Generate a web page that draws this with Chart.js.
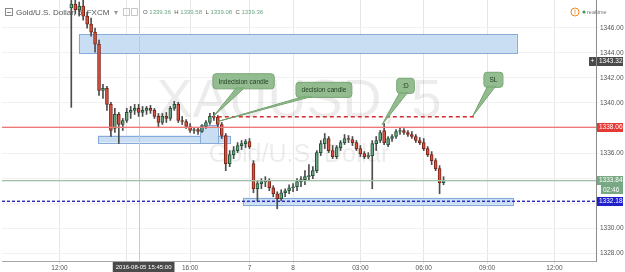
<!DOCTYPE html>
<html>
<head>
<meta charset="utf-8">
<script src="https://cdn.jsdelivr.net/npm/chart.js@4.4.1/dist/chart.umd.min.js"></script>
<style>
  html, body { margin: 0; padding: 0; background: #fff; }
</style>
</head>
<body>
<canvas id="chart" width="625" height="272"></canvas>
<script>
// XAUUSD 5m candles. first candle sits in slot 17
const barCount = 150;
const firstBar = 17;

const opens = [
  1347.56, 1347.88, 1347.40, 1347.72, 1346.92, 1346.28, 1345.64, 1344.68, 1341.00, 1341.16,
  1339.88, 1337.96, 1339.08, 1338.28, 1338.60, 1339.24, 1339.40, 1339.56, 1339.24, 1339.40,
  1339.56, 1339.40, 1338.92, 1338.44, 1338.92, 1338.76, 1339.56, 1339.88, 1338.60, 1338.52,
  1338.12, 1337.80, 1337.88, 1337.72, 1338.12, 1338.44, 1338.92, 1338.84, 1338.28, 1337.40,
  1335.16, 1335.88, 1336.20, 1336.60, 1336.76, 1336.92, 1335.16, 1333.16, 1333.56, 1333.72,
  1333.80, 1333.24, 1332.76, 1332.36, 1332.84, 1333.00, 1333.24, 1333.32, 1333.72, 1333.88,
  1334.12, 1334.20, 1334.60, 1336.04, 1336.76, 1337.16, 1336.20, 1335.72, 1336.44, 1336.84,
  1337.16, 1337.08, 1336.84, 1336.36, 1335.96, 1335.72, 1335.80, 1336.76, 1337.00, 1337.80,
  1336.68, 1337.16, 1337.32, 1337.72, 1337.80, 1337.64, 1337.48, 1337.32, 1337.00, 1336.84,
  1336.36, 1335.88, 1335.40, 1334.76, 1333.64
];
const highs = [
  1348.44, 1348.52, 1348.04, 1348.20, 1347.24, 1346.76, 1345.96, 1345.00, 1341.48, 1341.32,
  1340.04, 1339.56, 1339.24, 1338.76, 1339.56, 1339.72, 1339.88, 1339.88, 1339.72, 1339.72,
  1339.80, 1339.56, 1339.16, 1339.16, 1339.24, 1339.72, 1340.12, 1340.04, 1338.92, 1338.68,
  1338.36, 1338.04, 1338.04, 1338.28, 1338.60, 1339.16, 1339.24, 1339.00, 1338.44, 1337.56,
  1336.20, 1336.52, 1336.84, 1337.00, 1337.08, 1337.16, 1335.40, 1333.80, 1333.96, 1334.12,
  1333.96, 1333.40, 1332.92, 1333.08, 1333.16, 1333.48, 1333.56, 1333.96, 1334.12, 1334.60,
  1335.08, 1334.92, 1336.20, 1337.00, 1337.56, 1337.32, 1336.60, 1336.60, 1337.00, 1337.48,
  1337.40, 1337.32, 1337.00, 1336.60, 1336.12, 1336.04, 1337.00, 1337.32, 1337.80, 1338.36,
  1337.32, 1337.48, 1337.88, 1338.04, 1337.96, 1337.80, 1337.72, 1337.48, 1337.24, 1337.16,
  1336.52, 1336.12, 1335.56, 1335.00, 1334.12
];
const lows = [
  1339.64, 1347.08, 1346.92, 1346.60, 1345.96, 1345.32, 1344.04, 1340.60, 1340.36, 1339.40,
  1337.32, 1337.64, 1336.76, 1337.80, 1338.44, 1338.76, 1339.08, 1338.92, 1338.92, 1339.08,
  1339.16, 1338.76, 1338.04, 1338.28, 1338.44, 1338.60, 1339.40, 1338.44, 1338.28, 1337.96,
  1337.64, 1337.56, 1337.48, 1337.64, 1337.96, 1338.28, 1338.60, 1338.04, 1337.16, 1334.60,
  1334.92, 1335.56, 1336.04, 1336.28, 1336.44, 1336.36, 1332.84, 1332.20, 1333.16, 1333.32,
  1333.00, 1332.52, 1331.56, 1332.20, 1332.52, 1332.76, 1332.92, 1333.00, 1333.32, 1333.48,
  1333.80, 1333.96, 1334.44, 1335.80, 1336.36, 1336.04, 1335.56, 1335.56, 1336.20, 1336.68,
  1336.84, 1336.60, 1336.20, 1335.72, 1335.56, 1335.56, 1333.16, 1336.20, 1336.84, 1336.68,
  1336.52, 1336.92, 1337.16, 1337.48, 1337.48, 1337.32, 1337.16, 1336.84, 1336.68, 1336.20,
  1335.72, 1335.08, 1334.60, 1332.76, 1333.48
];
const closes = [
  1347.88, 1347.40, 1347.72, 1346.92, 1346.28, 1345.64, 1344.68, 1341.00, 1341.16, 1339.88,
  1337.80, 1339.08, 1338.28, 1338.60, 1339.24, 1339.40, 1339.56, 1339.24, 1339.40, 1339.56,
  1339.40, 1338.92, 1338.44, 1338.92, 1338.76, 1339.56, 1339.88, 1338.60, 1338.52, 1338.12,
  1337.80, 1337.88, 1337.72, 1338.12, 1338.44, 1338.92, 1338.84, 1338.28, 1337.40, 1335.16,
  1335.88, 1336.20, 1336.60, 1336.76, 1336.92, 1336.52, 1333.16, 1333.56, 1333.72, 1333.80,
  1333.24, 1332.76, 1332.36, 1332.84, 1333.00, 1333.24, 1333.32, 1333.72, 1333.88, 1334.12,
  1334.20, 1334.60, 1336.04, 1336.76, 1337.16, 1336.20, 1335.72, 1336.44, 1336.84, 1337.16,
  1337.08, 1336.84, 1336.36, 1335.96, 1335.72, 1335.80, 1336.76, 1337.00, 1337.64, 1336.84,
  1337.16, 1337.32, 1337.72, 1337.80, 1337.64, 1337.48, 1337.32, 1337.00, 1336.84, 1336.36,
  1335.88, 1335.40, 1334.76, 1333.64, 1333.84
];

// time axis
const tickBars = [14, 31, 47, 62, 73, 90, 106, 122, 139];
const tickTexts = ['12:00', '14:00', '16:00', '7', '8', '03:00', '06:00', '09:00', '12:00'];

// price axis
const priceTicks = [1328, 1330, 1332, 1334, 1336, 1338, 1340, 1342, 1344, 1346];
const hiddenPriceTicks = [1332, 1334, 1338];

// drawn zones (bar slot from/to, price top/bottom)
const zoneFrom = [18.9, 23.7, 49.5, 60.4];
const zoneTo = [129.5, 57.1, 54.0, 128.5];
const zoneTop = [1345.48, 1337.40, 1338.20, 1332.44];
const zoneBottom = [1343.96, 1336.84, 1336.76, 1331.88];

// levels
const redLevel = 1338.06;
const blueLevel = 1332.18;
const lastPrice = 1333.84;
const slLevel = 1338.96;
const slFrom = 54.0;
const slTo = 118.9;
const crossBar = 34;
const crossPrice = 1343.32;
const crossTime = '2016-08-05 15:45:00';
const countdown = '02:46';

// callouts
const noteTexts = ['Indecision candle', 'decision candle', ':D', 'SL'];
const noteBars = [60.5, 80.8, 101.4, 123.6];
const notePrices = [1341.72, 1341.04, 1341.36, 1341.84];
const tipBars = [52.8, 54.0, 95.5, 118.4];
const tipPrices = [1338.90, 1338.52, 1338.28, 1338.96];

const legendOHLC = ['1339.36', '1339.58', '1339.08', '1339.36'];

const family = '"Liberation Sans", Arial, sans-serif';

const labels = [];
for (let i = 0; i < barCount; i++) labels.push('');
tickBars.forEach((b, k) => { labels[b] = tickTexts[k]; });

function candle(i) {
    const k = i - firstBar;
    return k >= 0 && k < closes.length ? k : -1;
}

const wickData = labels.map((_, i) => {
    const k = candle(i);
    return k < 0 ? null : [lows[k], highs[k]];
});
const bodyData = labels.map((_, i) => {
    const k = candle(i);
    return k < 0 ? null : [opens[k], closes[k]];
});
const isUp = labels.map((_, i) => {
    const k = candle(i);
    return k >= 0 && closes[k] >= opens[k];
});

function roundRect(ctx, x, y, w, h, r) {
    ctx.beginPath();
    ctx.moveTo(x + r, y);
    ctx.lineTo(x + w - r, y);
    ctx.quadraticCurveTo(x + w, y, x + w, y + r);
    ctx.lineTo(x + w, y + h - r);
    ctx.quadraticCurveTo(x + w, y + h, x + w - r, y + h);
    ctx.lineTo(x + r, y + h);
    ctx.quadraticCurveTo(x, y + h, x, y + h - r);
    ctx.lineTo(x, y + r);
    ctx.quadraticCurveTo(x, y, x + r, y);
    ctx.closePath();
}

// horizontal level: a 1px line plus a faint partner row so the colour holds up
function hLine(ctx, x0, x1, yy, color, soft, dash) {
    const row = Math.round(yy);
    const partner = row % 2 === 0 ? row + 1 : row - 1;
    const rows = [[partner, soft], [row, color]];
    rows.forEach(([r, c]) => {
        ctx.fillStyle = c;
        if (!dash) {
            ctx.fillRect(x0, r, x1 - x0, 1);
            return;
        }
        for (let px = x0; px < x1; px += dash[0] + dash[1]) {
            ctx.fillRect(px, r, Math.min(dash[0], x1 - px), 1);
        }
    });
}

const overlay = {
    id: 'overlay',
    beforeDatasetsDraw(chart) {
        const { ctx, chartArea: a, scales: { x, y } } = chart;
        ctx.save();
        ctx.beginPath();
        ctx.rect(a.left, a.top, a.right - a.left, a.bottom - a.top);
        ctx.clip();

        // watermark
        const cx = (a.left + a.right) / 2;
        ctx.fillStyle = 'rgba(0, 0, 0, 0.075)';
        ctx.textAlign = 'center';
        ctx.textBaseline = 'middle';
        ctx.font = '54px ' + family;
        ctx.fillText('XAUUSD, 5', cx, 102);
        ctx.font = '25px ' + family;
        ctx.fillText('Gold/U.S. Dollar', cx, 155);

        // legend header
        ctx.strokeStyle = '#8a8a8a';
        ctx.lineWidth = 1;
        ctx.strokeRect(5.5, 8.5, 7, 7);
        ctx.beginPath();
        ctx.moveTo(7, 12.5);
        ctx.lineTo(11, 12.5);
        ctx.stroke();
        ctx.textAlign = 'left';
        ctx.fillStyle = '#555';
        ctx.font = '8px ' + family;
        ctx.fillText('Gold/U.S. Dollar, 5, FXCM', 16, 12.5);
        ctx.fillStyle = '#999';
        ctx.fillText('\u25BE', 114, 12.5);
        ctx.strokeStyle = '#c8c8c8';
        ctx.strokeRect(123.5, 8.5, 6, 7);
        ctx.strokeRect(131.5, 8.5, 6, 7);
        ctx.font = '6px ' + family;
        let lx = 143;
        ['O', 'H', 'L', 'C'].forEach((l, k) => {
            ctx.fillStyle = '#555';
            ctx.fillText(l, lx, 12.5);
            lx += ctx.measureText(l + ' ').width;
            ctx.fillStyle = '#6ba583';
            ctx.fillText(legendOHLC[k], lx, 12.5);
            lx += ctx.measureText(legendOHLC[k] + '  ').width;
        });

        // zones
        zoneFrom.forEach((f, k) => {
            const x0 = x.getPixelForValue(f);
            const x1 = x.getPixelForValue(zoneTo[k]);
            const y0 = y.getPixelForValue(zoneTop[k]);
            const y1 = y.getPixelForValue(zoneBottom[k]);
            ctx.fillStyle = '#c9ddf3';
            ctx.fillRect(x0, y0, x1 - x0, y1 - y0);
            ctx.strokeStyle = '#86abd8';
            ctx.lineWidth = 1;
            ctx.strokeRect(Math.round(x0) + 0.5, Math.round(y0) + 0.5, Math.round(x1 - x0), Math.round(y1 - y0));
        });

        // crosshair
        ctx.fillStyle = '#c8c8c8';
        ctx.fillRect(Math.round(x.getPixelForValue(crossBar)), a.top, 1, a.bottom - a.top);

        ctx.restore();
    },
    afterDatasetsDraw(chart) {
        const { ctx, chartArea: a, scales: { x, y } } = chart;
        ctx.save();

        // levels
        hLine(ctx, a.left, a.right, y.getPixelForValue(redLevel), 'rgb(236, 120, 120)', 'rgba(236, 120, 120, 0.35)');
        hLine(ctx, a.left, a.right, y.getPixelForValue(lastPrice), 'rgb(160, 192, 168)', 'rgba(160, 192, 168, 0.3)');
        hLine(ctx, a.left, a.right, y.getPixelForValue(blueLevel), 'rgb(40, 40, 190)', 'rgba(40, 40, 190, 0.4)', [3, 2]);
        hLine(ctx, x.getPixelForValue(slFrom), x.getPixelForValue(slTo), y.getPixelForValue(slLevel), 'rgb(214, 50, 50)', 'rgba(214, 50, 50, 0.55)', [4, 3]);

        ctx.font = '6.5px ' + family;
        ctx.textAlign = 'center';
        ctx.textBaseline = 'middle';
        const fracs = [0.45, 0.22, 0.4, 0.4];
        noteTexts.forEach((t, k) => {
            const bx = x.getPixelForValue(noteBars[k]);
            const by = y.getPixelForValue(notePrices[k]);
            const tx = x.getPixelForValue(tipBars[k]);
            const ty = y.getPixelForValue(tipPrices[k]);
            const w = Math.max(15, ctx.measureText(t).width + 11);
            const h = 15;
            const left = bx - w / 2;
            const top = by - h / 2;
            const base = left + w * fracs[k];
            ctx.fillStyle = 'rgba(128, 176, 124, 0.85)';
            ctx.strokeStyle = '#6a9966';
            ctx.lineWidth = 1;
            // tail
            ctx.beginPath();
            ctx.moveTo(base - 4, top + h - 1);
            ctx.lineTo(tx, ty);
            ctx.lineTo(base + 4, top + h - 1);
            ctx.closePath();
            ctx.stroke();
            roundRect(ctx, left, top, w, h, 3);
            ctx.stroke();
            ctx.beginPath();
            ctx.moveTo(base - 4, top + h - 1);
            ctx.lineTo(tx, ty);
            ctx.lineTo(base + 4, top + h - 1);
            ctx.closePath();
            ctx.fill();
            roundRect(ctx, left, top, w, h, 3);
            ctx.fill();
            ctx.fillStyle = '#1f3d1f';
            ctx.fillText(t, bx, by + 0.5);
        });
        ctx.restore();
    },
    afterDraw(chart) {
        const { ctx, chartArea: a, scales: { x, y } } = chart;
        ctx.save();
        ctx.font = '6.5px ' + family;
        ctx.textBaseline = 'middle';
        ctx.textAlign = 'left';
        const bx = a.right + 1;

        // price labels
        ctx.fillStyle = '#555';
        priceTicks.forEach(v => {
            if (hiddenPriceTicks.includes(v)) return;
            ctx.fillText(v.toFixed(2), a.right + 4, Math.round(y.getPixelForValue(v)) + 0.5);
        });

        function badge(text, yy, bg) {
            ctx.fillStyle = bg;
            ctx.fillRect(bx, Math.round(yy) - 4, 26, 9);
            ctx.fillStyle = '#fff';
            ctx.fillText(text, bx + 2, Math.round(yy) + 0.5);
        }
        const cy = y.getPixelForValue(crossPrice);
        badge(crossPrice.toFixed(2), cy, '#4a4a4a');
        ctx.fillStyle = '#4a4a4a';
        ctx.fillRect(a.right - 7, Math.round(cy) - 4, 7, 9);
        ctx.fillStyle = '#fff';
        ctx.textAlign = 'center';
        ctx.fillText('+', a.right - 3.5, Math.round(cy) + 0.5);
        ctx.textAlign = 'left';
        badge(redLevel.toFixed(2), y.getPixelForValue(redLevel), '#e53935');
        const ly = y.getPixelForValue(lastPrice);
        badge(lastPrice.toFixed(2), ly, '#78a884');
        ctx.fillStyle = '#78a884';
        ctx.fillRect(bx + 4, Math.round(ly) + 5, 22, 9);
        ctx.fillStyle = '#fff';
        ctx.fillText(countdown, bx + 6, Math.round(ly) + 10);
        badge(blueLevel.toFixed(2), y.getPixelForValue(blueLevel), '#2020cc');

        // crosshair time label
        const tx = x.getPixelForValue(crossBar) + 5;
        ctx.font = '6px ' + family;
        const tw = ctx.measureText(crossTime).width + 6;
        ctx.fillStyle = '#4a4a4a';
        ctx.fillRect(tx - tw / 2, a.bottom + 1, tw, 10);
        ctx.fillStyle = '#fff';
        ctx.textAlign = 'center';
        ctx.fillText(crossTime, tx, a.bottom + 6.5);

        // realtime flag
        ctx.strokeStyle = '#f08a24';
        ctx.lineWidth = 1;
        ctx.beginPath();
        ctx.arc(575, 12, 4, 0, Math.PI * 2);
        ctx.stroke();
        ctx.fillStyle = '#f08a24';
        ctx.font = 'bold 6px ' + family;
        ctx.fillText('!', 575, 12.5);
        ctx.fillStyle = '#3c9a5a';
        ctx.beginPath();
        ctx.arc(584, 12, 1.6, 0, Math.PI * 2);
        ctx.fill();
        ctx.fillStyle = '#777';
        ctx.font = '5.5px ' + family;
        ctx.textAlign = 'left';
        ctx.fillText('realtime', 587, 12.5);
        ctx.restore();
    }
};

new Chart(document.getElementById('chart'), {
    type: 'bar',
    data: {
        labels: labels,
        datasets: [{
            data: wickData,
            backgroundColor: '#4d4d4d',
            barThickness: 1,
            grouped: false,
            order: 2
        }, {
            data: bodyData,
            backgroundColor: isUp.map(u => u ? '#6ba583' : '#d75442'),
            borderColor: isUp.map(u => u ? '#225437' : '#7a2418'),
            borderWidth: 1,
            borderSkipped: false,
            barThickness: 3,
            minBarLength: 1,
            grouped: false,
            order: 1
        }]
    },
    options: {
        responsive: false,
        animation: false,
        devicePixelRatio: 1,
        layout: { padding: { left: 2, top: 0, right: 0, bottom: 0 } },
        plugins: {
            legend: { display: false },
            tooltip: { enabled: false }
        },
        scales: {
            x: {
                offset: true,
                grid: { color: '#e6e6e6', offset: false, tickLength: 3 },
                border: { color: '#a8a8a8' },
                ticks: {
                    autoSkip: false,
                    maxRotation: 0,
                    padding: 0,
                    color: '#555',
                    font: { size: 6.5, family: family },
                    callback: function (value) {
                        const l = this.getLabelForValue(value);
                        return l === '' ? null : l;
                    }
                },
                afterFit: function (scale) { scale.height = 11; }
            },
            y: {
                position: 'right',
                min: 1327.4,
                max: 1348.2,
                afterBuildTicks: function (scale) {
                    scale.ticks = priceTicks.map(v => ({ value: v }));
                },
                grid: { color: '#f1f1f1', tickLength: 3 },
                border: { color: '#8c8c8c' },
                ticks: { display: false },
                afterFit: function (scale) { scale.width = 29; }
            }
        }
    },
    plugins: [overlay]
});
</script>
</body>
</html>
